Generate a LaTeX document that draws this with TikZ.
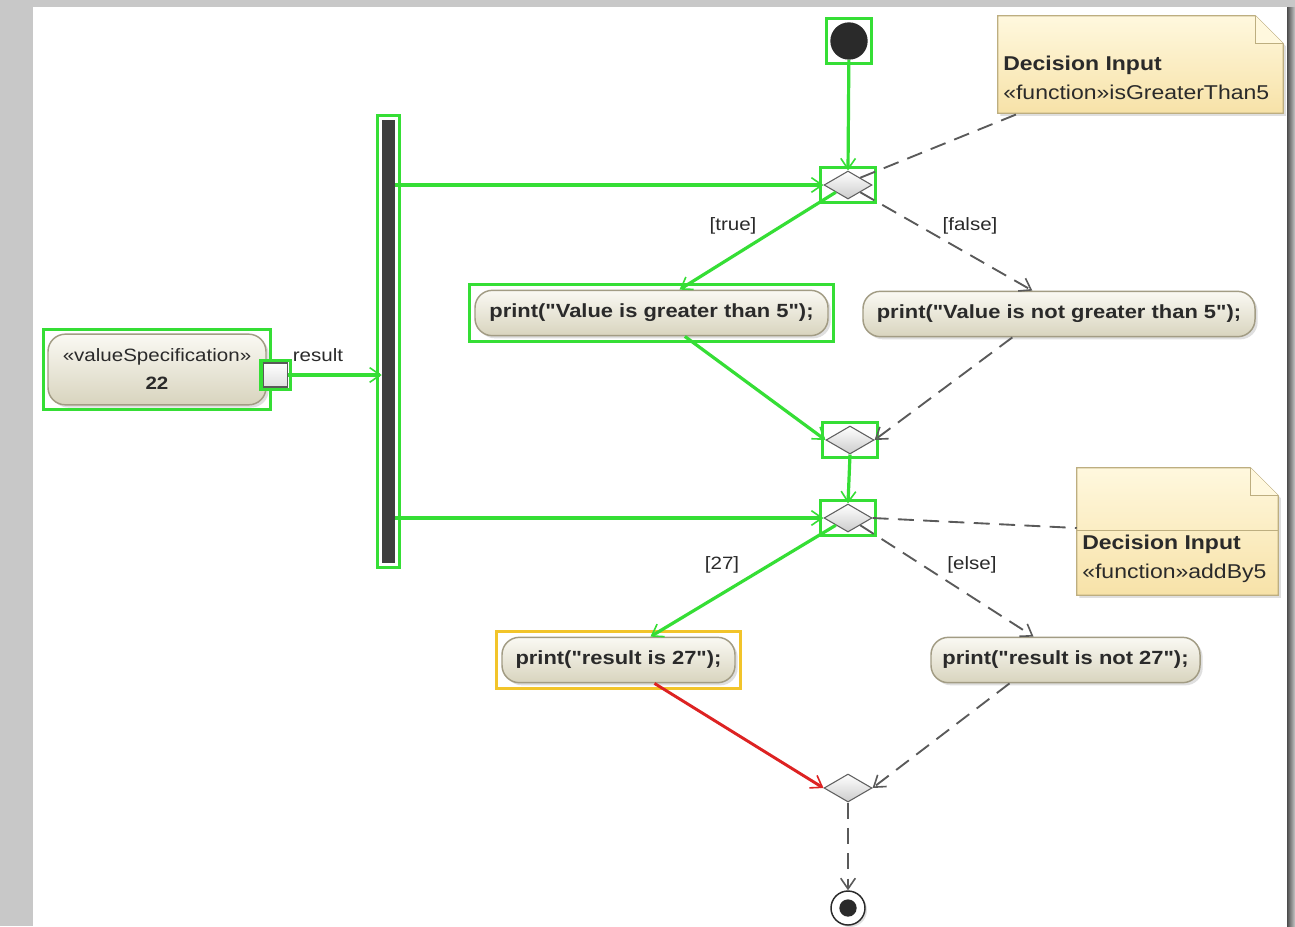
\documentclass[tikz,border=0pt]{standalone}
\usepackage{fontspec}
\setmainfont{Liberation Sans}[FakeStretch=1.15, Ligatures=TeXOff]
\usetikzlibrary{arrows.meta,shapes.geometric,calc,shadows,fit}

\definecolor{bg}{HTML}{C8C8C8}
\definecolor{grn}{HTML}{35DE35}
\definecolor{actTop}{HTML}{FAF9F3}
\definecolor{actBot}{HTML}{D8D4BE}
\definecolor{actLine}{HTML}{A29C84}
\definecolor{noteTop}{HTML}{FFF8DE}
\definecolor{noteBot}{HTML}{F7E2A8}
\definecolor{noteLine}{HTML}{BDAE80}
\definecolor{dashc}{HTML}{5A5A5A}
\definecolor{redf}{HTML}{DD2222}
\definecolor{sely}{HTML}{F2C42A}
\definecolor{txt}{HTML}{2A2A2A}

\begin{document}
\begin{tikzpicture}[x=0.75pt,y=-0.75pt,
  action/.style={draw=actLine, line width=1.1pt, top color=actTop, bottom color=actBot,
    rounded corners=13pt, minimum height=34pt, inner sep=0pt, text=txt,
    font=\bfseries\fontsize{14.3}{17}\selectfont,
    drop shadow={shadow xshift=2pt, shadow yshift=-2pt, opacity=0.25, fill=gray}},
  selbox/.style={draw=grn, line width=2.3pt, inner sep=3.5pt},
  decision/.style={diamond, draw=gray!75!black, line width=0.8pt, top color=white,
    bottom color=gray!40, minimum width=36pt, minimum height=21pt, inner sep=0pt},
  lbl/.style={text=txt, font=\fontsize{13.4}{16}\selectfont, inner sep=0pt},
  notetxt/.style={text=txt, font=\fontsize{15}{21.5}\selectfont, inner sep=0pt, align=left, anchor=west},
  noteshape/.style={draw=noteLine, line width=0.9pt, top color=noteTop, bottom color=noteBot},
  tip/.style={-{Straight Barb[length=8pt,width=11pt,line width=1.2pt]}},
  flow/.style={draw=grn, line width=2.4pt, tip},
  dflow/.style={draw=dashc, line width=1.4pt, dash pattern=on 12pt off 7pt, tip},
  anchorline/.style={draw=dashc, line width=1.4pt, dash pattern=on 12pt off 7pt}
]
\useasboundingbox (0,0) rectangle (1295,926);

% canvas
\fill[bg] (0,0) rectangle (1295,926);
\fill[white] (33,7) rectangle (1287,926);
\shade[left color=gray!60!black, right color=bg] (1287,7) rectangle (1295,926);

% ---------- notes ----------
\node[minimum width=213.75pt, minimum height=72.75pt, inner sep=0pt] (n1) at (1140.5,64.5) {};
\path[noteshape, drop shadow={shadow xshift=2pt, shadow yshift=-2pt, opacity=0.25, fill=gray}]
  (n1.south west) -- (n1.north west) -- ([xshift=-21pt]n1.north east)
  -- ([yshift=-21pt]n1.north east) -- (n1.south east) -- cycle;
\draw[draw=noteLine, line width=0.9pt, fill=noteTop]
  ([xshift=-21pt]n1.north east) -- ([xshift=-21pt,yshift=-21pt]n1.north east) -- ([yshift=-21pt]n1.north east);
\node[notetxt] (n1t) at (1003,78) {\textbf{Decision Input}\\«function»isGreaterThan5};

\node[minimum width=150.75pt, minimum height=95.25pt, inner sep=0pt] (n2) at (1177.5,531.5) {};
\path[noteshape, drop shadow={shadow xshift=2pt, shadow yshift=-2pt, opacity=0.25, fill=gray}]
  (n2.south west) -- (n2.north west) -- ([xshift=-21pt]n2.north east)
  -- ([yshift=-21pt]n2.north east) -- (n2.south east) -- cycle;
\draw[draw=noteLine, line width=0.9pt, fill=noteTop]
  ([xshift=-21pt]n2.north east) -- ([xshift=-21pt,yshift=-21pt]n2.north east) -- ([yshift=-21pt]n2.north east);
\draw[draw=noteLine, line width=0.7pt] (n2.west |- 0,530) -- (n2.east |- 0,530);
\node[notetxt] (n2t) at (1082,559) {\textbf{Decision Input}\\«function»addBy5};

% ---------- nodes ----------
\node[circle, fill=txt, minimum size=28pt, inner sep=0pt] (init) at (849,41) {};
\node[selbox, fit=(init), inner sep=3pt] {};

\node[fill=txt!90!white, minimum width=9.75pt, minimum height=332pt, inner sep=0pt] (bar) at (388.5,341.5) {};
\node[selbox, fit=(bar), inner sep=3pt] {};

\node[action, minimum width=163.5pt, minimum height=53pt, align=center,
      font=\fontsize{13.4}{21}\selectfont] (vs) at (157,369.5)
  {«valueSpecification»\\\textbf{22}};
\node[selbox, fit=(vs), inner sep=3pt] {};
\node[draw=gray!70!black, top color=white, bottom color=gray!25, line width=0.8pt, minimum size=18pt, inner sep=0pt] (pin) at (275.5,375) {};
\node[selbox, fit=(pin), inner sep=1.5pt] {};
\node[lbl] (res) at (318,355) {result};

\node[decision] (d1) at (848,185) {};
\node[selbox, fit=(d1), inner sep=2.5pt] {};

\node[action, minimum width=264.75pt] (a1) at (651.5,313) {print("Value is greater than 5");};
\node[selbox, fit=(a1)] {};
\node[action, minimum width=294pt] (a2) at (1059,314) {print("Value is not greater than 5");};

\node[decision] (m1) at (850,440) {};
\node[selbox, fit=(m1), inner sep=2.5pt] {};

\node[decision] (d2) at (848,518) {};
\node[selbox, fit=(d2), inner sep=2.5pt] {};

\node[action, minimum width=174.75pt] (a3) at (618.5,660) {print("result is 27");};
\node[selbox, draw=sely, fit=(a3)] {};
\node[action, minimum width=201.75pt] (a4) at (1065.5,660) {print("result is not 27");};

\node[decision] (m2) at (848,788) {};

\node[circle, draw=txt, line width=1.1pt, fill=white, minimum size=25.5pt, inner sep=0pt,
      path picture={\fill[txt] (path picture bounding box.center) circle (6.5pt);},
      drop shadow={shadow xshift=1.5pt, shadow yshift=-1.5pt, opacity=0.25, fill=gray}] (fin) at (848,908) {};

% ---------- guard labels ----------
\node[lbl] (gtrue) at (733,226) {[true]};
\node[lbl] (gfalse) at (970,226) {[false]};
\node[lbl] (g27) at (722,565) {[27]};
\node[lbl] (gelse) at (972,565) {[else]};

% ---------- connectors ----------
\draw[flow] (init) -- (d1.north);
\draw[flow] (pin.east) -- (pin.east -| bar.west);
\draw[flow] (bar.east |- d1) -- (d1.west);
\draw[flow] (bar.east |- d2) -- (d2.west);
\draw[flow] (d1.south west) -- ([xshift=21pt]a1.north);
\draw[dflow] (d1.south east) -- ([xshift=-20pt]a2.north);
\draw[anchorline] (d1.north east) -- ([xshift=16pt]n1.south west);
\draw[flow] ([xshift=25pt]a1.south) -- (m1.west);
\draw[dflow] ([xshift=-35pt]a2.south) -- (m1.east);
\draw[flow] (m1.south) -- (d2.north);
\draw[anchorline] (d2.east) -- (n2.west |- 0,528);
\draw[flow] (d2.south west) -- ([xshift=24pt]a3.north);
\draw[dflow] (d2.south east) -- ([xshift=-24pt]a4.north);
\draw[draw=redf, line width=2.2pt, tip] ([xshift=27pt]a3.south) -- (m2.west);
\draw[dflow] ([xshift=-42pt]a4.south) -- (m2.east);
\draw[dflow] (m2.south) -- (fin.north);
\end{tikzpicture}
\end{document}
